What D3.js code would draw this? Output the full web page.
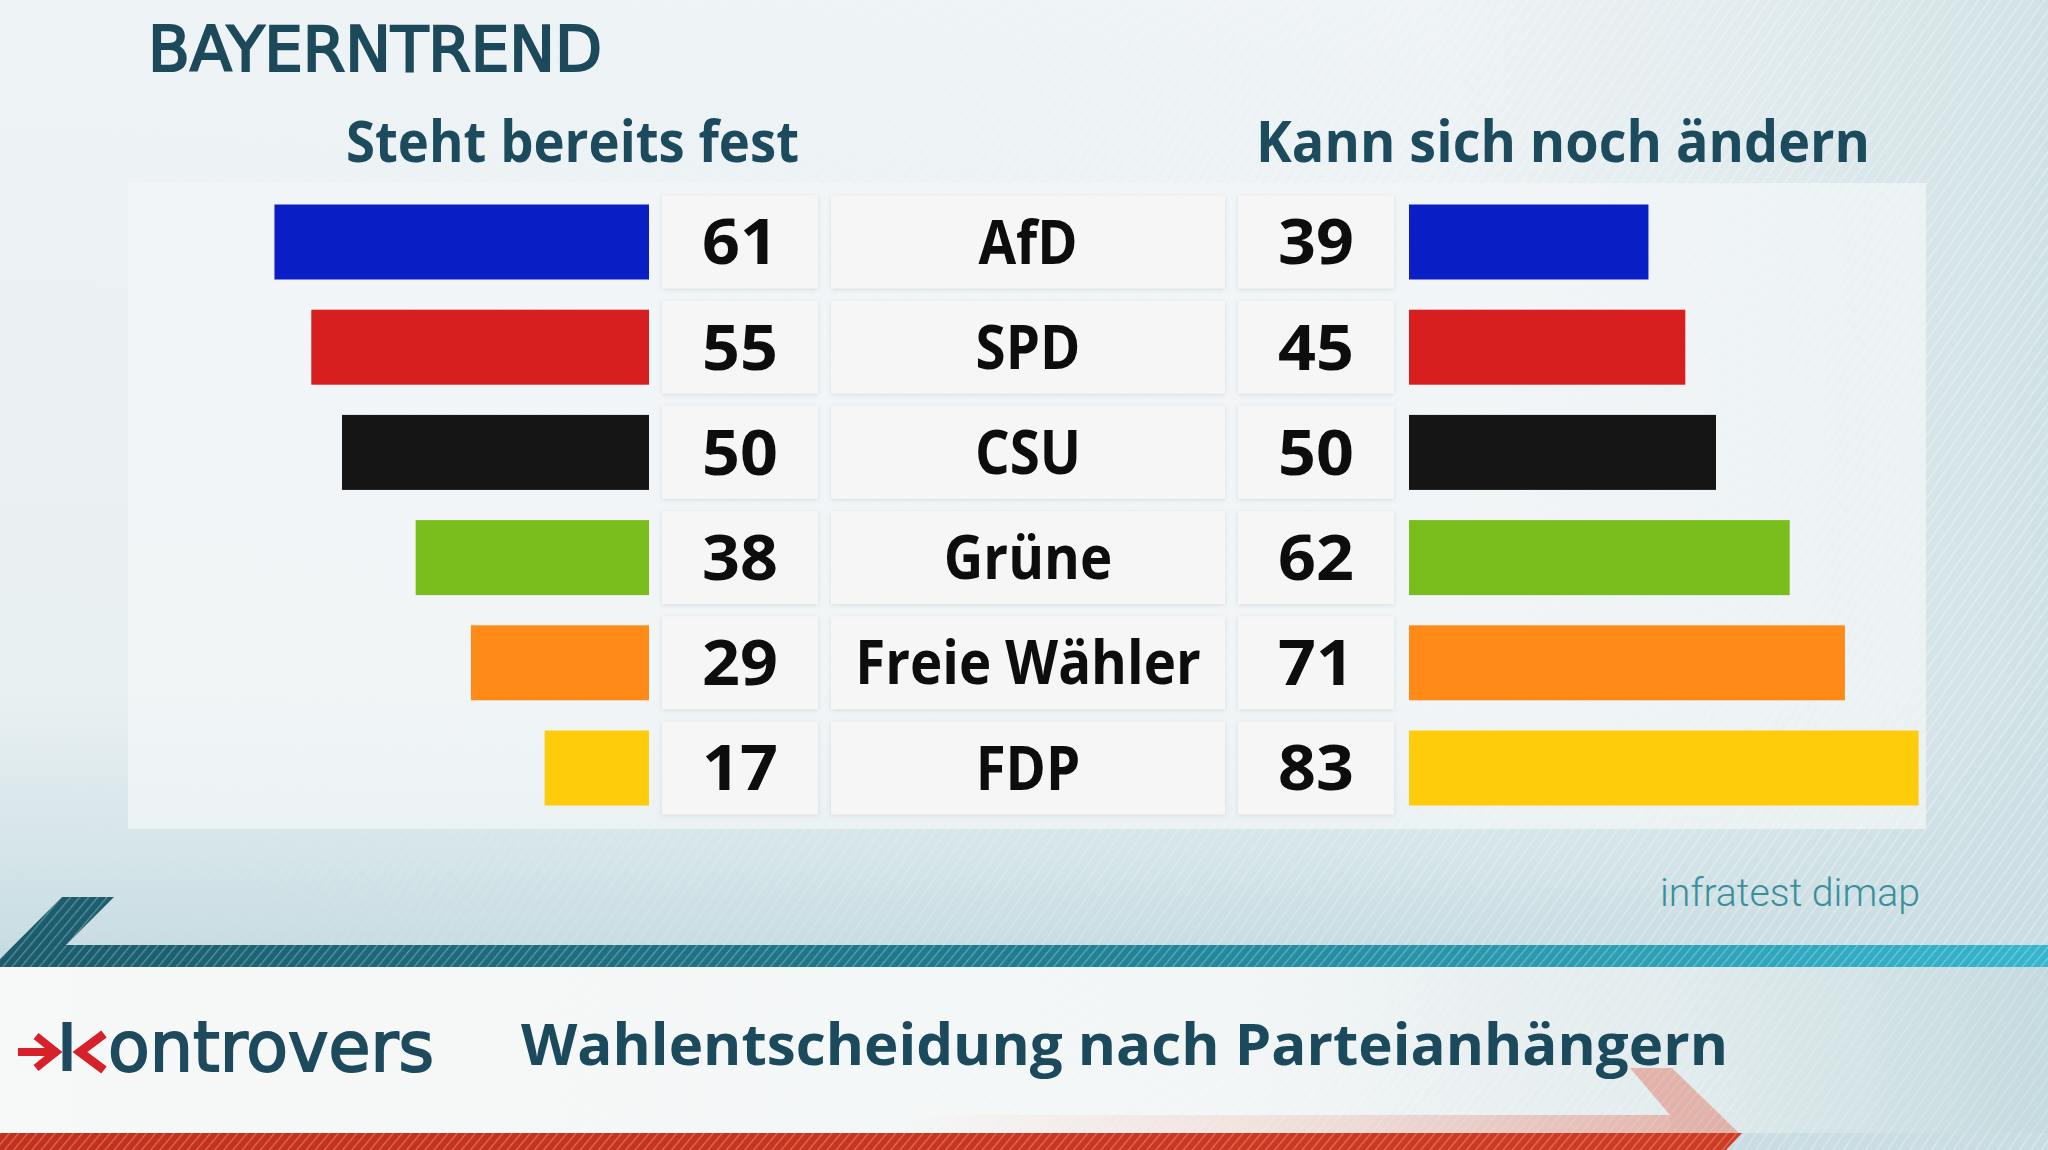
<!DOCTYPE html>
<html>
<head>
<meta charset="utf-8">
<script src="https://cdn.jsdelivr.net/npm/d3@7"></script>
<style>
  html, body { margin: 0; padding: 0; background: #eef3f5; }
  svg { display: block; }
</style>
</head>
<body>
<svg id="chart" width="2048" height="1150"></svg>
<script>
// ---- data ----
const parties = ["AfD", "SPD", "CSU", "Grüne", "Freie Wähler", "FDP"];
const fixedValues = [61, 55, 50, 38, 29, 17];      // Steht bereits fest
const changeValues = [39, 45, 50, 62, 71, 83];     // Kann sich noch ändern
const partyColors = ["#0a1ec6", "#d81f1f", "#151515", "#79bd1c", "#ff8a18", "#ffcc0c"];
const headerLeft = "Steht bereits fest";
const headerRight = "Kann sich noch ändern";
const brand = "BAYERNTREND";
const source = "infratest  dimap";
const show = "ontrovers";
const subtitle = "Wahlentscheidung nach Parteianhängern";

const W = 2048, H = 1150;
const svg = d3.select("#chart");
const defs = svg.append("defs");

// gradients
const bg = defs.append("linearGradient").attr("id", "bg").attr("x1", 0).attr("y1", 0).attr("x2", 0).attr("y2", 1);
bg.append("stop").attr("offset", 0).attr("stop-color", "#eef3f5");
bg.append("stop").attr("offset", 0.6).attr("stop-color", "#e9f0f2");
bg.append("stop").attr("offset", 0.76).attr("stop-color", "#d2e3e7");
bg.append("stop").attr("offset", 0.84).attr("stop-color", "#c5dbe1");

const bgH = defs.append("linearGradient").attr("id", "bgH").attr("x1", 0).attr("y1", 0).attr("x2", 1).attr("y2", 0);
bgH.append("stop").attr("offset", 0).attr("stop-color", "#ffffff").attr("stop-opacity", 0);
bgH.append("stop").attr("offset", 0.7).attr("stop-color", "#d5e3e7").attr("stop-opacity", 0.0);
bgH.append("stop").attr("offset", 1).attr("stop-color", "#c9dde2").attr("stop-opacity", 0.8);

const teal = defs.append("linearGradient").attr("id", "teal").attr("x1", 0).attr("y1", 0).attr("x2", 1).attr("y2", 0);
teal.append("stop").attr("offset", 0).attr("stop-color", "#1b5b6b");
teal.append("stop").attr("offset", 0.5).attr("stop-color", "#1f7d91");
teal.append("stop").attr("offset", 1).attr("stop-color", "#36b6ce");

const whiteBand = defs.append("linearGradient").attr("id", "whiteBand").attr("x1", 0).attr("y1", 0).attr("x2", 1).attr("y2", 0);
whiteBand.append("stop").attr("offset", 0).attr("stop-color", "#f7f9f9");
whiteBand.append("stop").attr("offset", 0.6).attr("stop-color", "#f3f6f6");
whiteBand.append("stop").attr("offset", 0.82).attr("stop-color", "#e1ebed");
whiteBand.append("stop").attr("offset", 1).attr("stop-color", "#c4dade");

const red = defs.append("linearGradient").attr("id", "red").attr("x1", 0).attr("y1", 0).attr("x2", 1).attr("y2", 0);
red.append("stop").attr("offset", 0).attr("stop-color", "#c2301b");
red.append("stop").attr("offset", 1).attr("stop-color", "#cf3a22");

const pink = defs.append("linearGradient").attr("id", "pink").attr("x1", 0).attr("y1", 0).attr("x2", 1).attr("y2", 0);
pink.append("stop").attr("offset", 0).attr("stop-color", "#e6826f").attr("stop-opacity", 0);
pink.append("stop").attr("offset", 0.6).attr("stop-color", "#e6826f").attr("stop-opacity", 0.22);
pink.append("stop").attr("offset", 1).attr("stop-color", "#e6826f").attr("stop-opacity", 0.5);

// stripes pattern
const pat = defs.append("pattern").attr("id", "stripes").attr("patternUnits", "userSpaceOnUse")
  .attr("width", 9).attr("height", 9).attr("patternTransform", "rotate(35)");
pat.append("line").attr("x1", 0).attr("y1", 0).attr("x2", 0).attr("y2", 9)
  .attr("stroke", "#ffffff").attr("stroke-width", 3).attr("stroke-opacity", 0.35);

const pat2 = defs.append("pattern").attr("id", "stripes2").attr("patternUnits", "userSpaceOnUse")
  .attr("width", 7).attr("height", 7).attr("patternTransform", "rotate(40)");
pat2.append("line").attr("x1", 0).attr("y1", 0).attr("x2", 0).attr("y2", 7)
  .attr("stroke", "#ffffff").attr("stroke-width", 2.5).attr("stroke-opacity", 0.3);

const stripeMaskGrad = defs.append("linearGradient").attr("id", "smg").attr("x1", 0).attr("y1", 0).attr("x2", 1).attr("y2", 0);
stripeMaskGrad.append("stop").attr("offset", 0).attr("stop-color", "#fff").attr("stop-opacity", 0.1);
stripeMaskGrad.append("stop").attr("offset", 0.5).attr("stop-color", "#fff").attr("stop-opacity", 0.6);
stripeMaskGrad.append("stop").attr("offset", 1).attr("stop-color", "#fff").attr("stop-opacity", 1);
defs.append("mask").attr("id", "stripeMask").append("rect")
  .attr("x", 0).attr("y", 0).attr("width", W).attr("height", H).attr("fill", "url(#smg)");

const shadow = defs.append("filter").attr("id", "shadow").attr("x", "-10%").attr("y", "-10%").attr("width", "120%").attr("height", "130%");
shadow.append("feDropShadow").attr("dx", 0).attr("dy", 1).attr("stdDeviation", 2)
  .attr("flood-color", "#8aa3ab").attr("flood-opacity", 0.3);

// background
svg.append("rect").attr("width", W).attr("height", H).attr("fill", "url(#bg)");
svg.append("rect").attr("width", W).attr("height", H).attr("fill", "url(#bgH)");
svg.append("rect").attr("width", W).attr("height", H).attr("fill", "url(#stripes)").attr("mask", "url(#stripeMask)");

// chart panel
svg.append("rect").attr("x", 128).attr("y", 183).attr("width", 1798).attr("height", 646)
  .attr("fill", "#f4f7f8").attr("fill-opacity", 0.7);

// scales
const x = d3.scaleLinear().domain([0, 100]).range([0, 614]);
const y = d3.scalePoint().domain(parties).range([242, 768]);
const leftEdge = 649, rightStart = 1409;
const barH = 75, boxH = 93;

const rows = parties.map((p, i) => ({ party: p, fixed: fixedValues[i], change: changeValues[i], color: partyColors[i] }));

// boxes
const boxes = [
  { x: 662, w: 156, key: "fixed", size: 62, stretch: 1.07 },
  { x: 831, w: 394, key: "party", size: 60, stretch: 0.91 },
  { x: 1238, w: 156, key: "change", size: 62, stretch: 1.07 }
];
const g = svg.append("g");
rows.forEach(r => {
  boxes.forEach(b => {
    g.append("rect").attr("x", b.x).attr("y", y(r.party) - boxH / 2).attr("width", b.w).attr("height", boxH)
      .attr("fill", "#f6f6f6").attr("filter", "url(#shadow)");
    const t = g.append("text").attr("x", b.x + b.w / 2).attr("y", y(r.party)).attr("dy", "0.36em")
      .attr("text-anchor", "middle")
      .attr("font-family", "'Open Sans', sans-serif").attr("font-weight", 700)
      .attr("font-size", b.size).attr("fill", "#0d0d0d")
      .text(r[b.key]);
    const len = t.node().getComputedTextLength();
    t.attr("textLength", len * b.stretch).attr("lengthAdjust", "spacingAndGlyphs");
  });
});

// bars
g.selectAll("rect.left").data(rows).join("rect").attr("class", "left")
  .attr("x", d => leftEdge - x(d.fixed)).attr("y", d => y(d.party) - barH / 2)
  .attr("width", d => x(d.fixed)).attr("height", barH).attr("fill", d => d.color);
g.selectAll("rect.right").data(rows).join("rect").attr("class", "right")
  .attr("x", rightStart).attr("y", d => y(d.party) - barH / 2)
  .attr("width", d => x(d.change)).attr("height", barH).attr("fill", d => d.color);

// headers
svg.append("text").attr("x", 799).attr("y", 162).attr("text-anchor", "end")
  .attr("font-family", "'Open Sans', sans-serif").attr("font-weight", 700).attr("font-size", 57)
  .attr("fill", "#1c4b5d").attr("textLength", 453).attr("lengthAdjust", "spacingAndGlyphs").text(headerLeft);
svg.append("text").attr("x", 1256).attr("y", 162)
  .attr("font-family", "'Open Sans', sans-serif").attr("font-weight", 700).attr("font-size", 57)
  .attr("fill", "#1c4b5d").attr("textLength", 614).attr("lengthAdjust", "spacingAndGlyphs").text(headerRight);

// brand
svg.append("text").attr("x", 148).attr("y", 71)
  .attr("font-family", "'DejaVu Sans', sans-serif").attr("font-weight", 400).attr("font-size", 62)
  .attr("fill", "#1d4a5a").attr("stroke", "#1d4a5a").attr("stroke-width", 2.2)
  .attr("textLength", 454).attr("lengthAdjust", "spacingAndGlyphs").text(brand);

// source
svg.append("text").attr("x", 1920).attr("y", 906).attr("text-anchor", "end")
  .attr("font-family", "Roboto, sans-serif").attr("font-weight", 300).attr("font-size", 38)
  .attr("fill", "#3b8f9b").attr("textLength", 260).attr("lengthAdjust", "spacingAndGlyphs").text(source);

// bottom banner
svg.append("rect").attr("x", 0).attr("y", 967).attr("width", W).attr("height", 166).attr("fill", "url(#whiteBand)");
svg.append("rect").attr("x", 0).attr("y", 967).attr("width", W).attr("height", 166).attr("fill", "url(#stripes)").attr("mask", "url(#stripeMask)").attr("opacity", 0.6);
svg.append("path").attr("d", "M62,897 L114,897 L66,945 L2048,945 L2048,967 L0,967 L0,959 Z").attr("fill", "url(#teal)");
svg.append("path").attr("d", "M62,897 L114,897 L66,945 L2048,945 L2048,967 L0,967 L0,959 Z").attr("fill", "url(#stripes2)");
// pink arrow shaft + chevron
svg.append("path").attr("d", "M900,1115 L1670,1115 L1670,1134 L900,1134 Z")
  .attr("fill", "url(#pink)");
svg.append("path").attr("d", "M1630,1068 L1672,1068 L1740,1134 L1670,1134 L1670,1115 Z")
  .attr("fill", "#e27a66").attr("fill-opacity", 0.5);
svg.append("path").attr("d", "M900,1068 L1745,1068 L1745,1134 L900,1134 Z").attr("fill", "url(#stripes2)")
  .attr("opacity", 0.5);
svg.append("path").attr("d", "M0,1133 L1742,1133 L1726,1150 L0,1150 Z").attr("fill", "url(#red)");
svg.append("path").attr("d", "M0,1133 L1742,1133 L1726,1150 L0,1150 Z").attr("fill", "url(#stripes2)");

// kontrovers logo
const logo = svg.append("g").attr("fill", "none").attr("stroke-linecap", "butt");
logo.append("path").attr("d", "M18,1052 L58,1052").attr("stroke", "#d6202a").attr("stroke-width", 8);
logo.append("path").attr("d", "M36,1036 L56,1052 L36,1068").attr("stroke", "#d6202a").attr("stroke-width", 8);
logo.append("path").attr("d", "M67,1022 L67,1071").attr("stroke", "#1d4a5c").attr("stroke-width", 9);
logo.append("path").attr("d", "M104,1034 L80,1052 L104,1070").attr("stroke", "#d6202a").attr("stroke-width", 9);
svg.append("text").attr("x", 108).attr("y", 1071)
  .attr("font-family", "'DejaVu Sans', sans-serif").attr("font-weight", 400).attr("font-size", 70)
  .attr("fill", "#1d4a5c").attr("stroke", "#1d4a5c").attr("stroke-width", 2)
  .attr("textLength", 326).attr("lengthAdjust", "spacingAndGlyphs").text(show);

svg.append("text").attr("x", 521).attr("y", 1065)
  .attr("font-family", "'Open Sans', sans-serif").attr("font-weight", 700).attr("font-size", 58)
  .attr("fill", "#1b4a5d").attr("textLength", 1207).attr("lengthAdjust", "spacingAndGlyphs").text(subtitle);
</script>
</body>
</html>
